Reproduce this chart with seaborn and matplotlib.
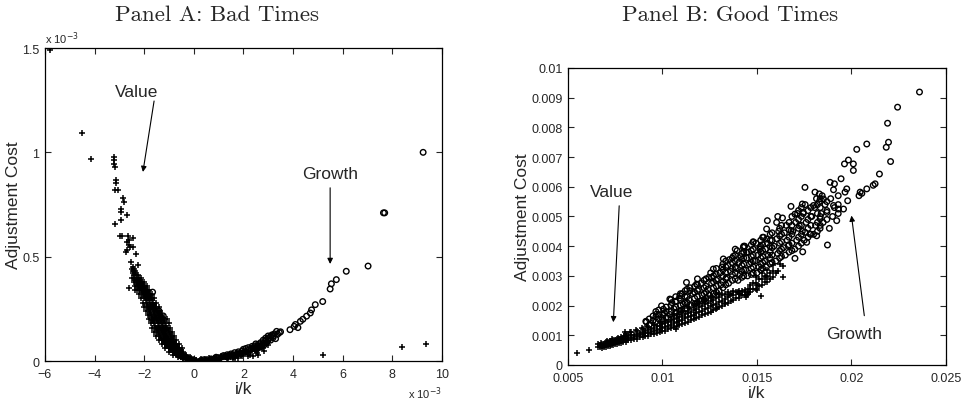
import numpy as np
import pandas as pd
import matplotlib
matplotlib.use('Agg')
import matplotlib.pyplot as plt
import seaborn as sns

# Panel A (bad times), both axes in units of 1e-3
# value firms (+): outliers, then the steep left band, then the flat band right of zero
a_value_x = [-5.8, -4.49, -4.13, -3.22, -3.22, -3.2, -3.18, -3.14, -3.14, -3.18, -3.04, -2.84, -2.82,
             -2.95, -2.92, -2.71, -3.18, -2.95, -2.98, -2.9, -2.64, -2.6, -2.47, -2.71, -2.6, -2.57,
             -2.44, -2.73, -2.68, -2.33, -2.53, -2.24, -2.45, -2.4, -2.61, -2.37, -1.70, -1.75, -1.6,
             5.22, 8.41, 9.35,
             -2.45, -2.35, -2.4, -2.3, -2.2, -2.3, -2.2, -2.1, -2.25, -2.12, -2.0, -2.15, -2.02, -1.9,
             -2.05, -1.92, -1.8, -1.98, -1.85, -1.72, -1.9, -1.78, -1.64, -1.85, -1.7, -1.55,
             -1.78, -1.62, -1.48, -1.72, -1.56, -1.4, -1.66, -1.5, -1.34, -1.2, -1.6, -1.44, -1.28, -1.14,
             -1.52, -1.38, -1.22, -1.08, -1.45, -1.3, -1.15, -1.0, -1.38, -1.22, -1.06, -0.92,
             -1.28, -1.12, -0.98, -0.84, -1.15, -1.0, -0.86, -0.72, -1.0, -0.86, -0.72, -0.6,
             -0.85, -0.7, -0.56, -0.68, -0.55, -0.42, -0.5, -0.38, -0.26, -0.32, -0.2, -0.1, -0.1, 0.0,
             -2.42, -2.32, -2.25, -2.36, -2.26, -2.16, -2.28, -2.16, -2.05, -2.2, -2.08, -1.96,
             -2.1, -1.98, -1.86, -2.02, -1.9, -1.76, -1.94, -1.82, -1.68, -1.88, -1.74, -1.6,
             -1.82, -1.66, -1.52, -1.75, -1.6, -1.45, -1.69, -1.54, -1.38, -1.27, -1.63, -1.47, -1.32,
             -1.18, -1.56, -1.42, -1.26, -1.12, -1.5, -1.34, -1.19, -1.04, -1.42, -1.26, -1.1, -0.96,
             -1.33, -1.17, -1.02, -0.88, -1.22, -1.06, -0.92, -0.78, -1.08, -0.93, -0.79, -0.66,
             -0.93, -0.78, -0.64, -0.52, -0.77, -0.62, -0.49, -0.6, -0.47, -0.34, -0.42, -0.3, -0.18,
             -0.22, -0.12, -0.03,
             0.05, 0.2, 0.35, 0.5, 0.65, 0.8, 0.95, 1.1, 1.25, 1.4, 1.55, 1.7, 1.85, 2.0, 2.15, 2.3,
             2.45, 2.6, 2.75, 2.9, 0.3, 0.6, 0.9, 1.2, 1.5, 1.8, 2.1, 2.4, 2.7,
             0.15, 0.45, 0.75, 1.05, 1.35, 1.65, 1.95, 2.25, 2.55, 2.85, 0.4, 0.7, 1.0, 1.3, 1.6,
             1.9, 2.2, 2.5, 2.8, 3.0]
a_value_y = [1.49, 1.093, 0.97, 0.98, 0.965, 0.945, 0.93, 0.866, 0.855, 0.82, 0.82, 0.78, 0.76,
             0.727, 0.715, 0.70, 0.655, 0.674, 0.6, 0.6, 0.6, 0.58, 0.59, 0.57, 0.555, 0.546,
             0.546, 0.52, 0.53, 0.514, 0.474, 0.458, 0.45, 0.43, 0.35, 0.342, 0.195, 0.25, 0.27,
             0.03, 0.067, 0.083,
             0.42, 0.42, 0.40, 0.40, 0.40, 0.38, 0.38, 0.38, 0.36, 0.36, 0.36, 0.34, 0.34, 0.34,
             0.32, 0.32, 0.32, 0.30, 0.30, 0.30, 0.28, 0.28, 0.28, 0.26, 0.26, 0.26,
             0.24, 0.24, 0.24, 0.22, 0.22, 0.22, 0.20, 0.20, 0.20, 0.20, 0.18, 0.18, 0.18, 0.18,
             0.16, 0.16, 0.16, 0.16, 0.14, 0.14, 0.14, 0.14, 0.12, 0.12, 0.12, 0.12,
             0.10, 0.10, 0.10, 0.10, 0.08, 0.08, 0.08, 0.08, 0.06, 0.06, 0.06, 0.06,
             0.045, 0.045, 0.045, 0.03, 0.03, 0.03, 0.018, 0.018, 0.018, 0.008, 0.008, 0.008, 0.002, 0.002,
             0.41, 0.41, 0.41, 0.39, 0.39, 0.39, 0.37, 0.37, 0.37, 0.35, 0.35, 0.35,
             0.33, 0.33, 0.33, 0.31, 0.31, 0.31, 0.29, 0.29, 0.29, 0.27, 0.27, 0.27,
             0.25, 0.25, 0.25, 0.23, 0.23, 0.23, 0.21, 0.21, 0.21, 0.21, 0.19, 0.19, 0.19,
             0.19, 0.17, 0.17, 0.17, 0.17, 0.15, 0.15, 0.15, 0.15, 0.13, 0.13, 0.13, 0.13,
             0.11, 0.11, 0.11, 0.11, 0.09, 0.09, 0.09, 0.09, 0.07, 0.07, 0.07, 0.07,
             0.052, 0.052, 0.052, 0.052, 0.038, 0.038, 0.038, 0.024, 0.024, 0.024, 0.013, 0.013, 0.013,
             0.004, 0.004, 0.004,
             0.001, 0.002, 0.003, 0.004, 0.006, 0.008, 0.011, 0.014, 0.017, 0.02, 0.024, 0.028, 0.032,
             0.037, 0.042, 0.048, 0.054, 0.061, 0.07, 0.08, 0.008, 0.012, 0.017, 0.024, 0.031, 0.04,
             0.05, 0.062, 0.08,
             0.0, 0.002, 0.004, 0.008, 0.012, 0.016, 0.022, 0.03, 0.04, 0.05, 0.005, 0.009, 0.013,
             0.018, 0.022, 0.028, 0.036, 0.046, 0.06, 0.075]
# more value firms at the edges of the two bands
a_value_x2 = [-2.5, -2.42, -2.47, -2.38, -2.5, -2.12, -2.42, -2.0, -2.37, -1.9, -2.28, -1.8,
              -2.2, -1.7, -2.12, -1.6, -2.05, -1.52, -2.0, -1.42, -1.92, -1.36, -1.86, -1.28,
              -1.8, -1.08, -1.74, -1.0, -1.68, -0.95, -1.6, -0.88, -1.52, -0.8, -1.42, -0.72,
              -1.3, -0.6, -1.14, -0.48, -1.0, -0.44, -0.82, -0.3, -0.64, -0.15, -0.45, 0.02,
              -1.58, -1.42, -1.26, -1.45, -1.28, -1.12, -1.2, -1.05, -0.9, -0.95, -0.8, -0.66,
              -0.72, -0.58, -0.46, -0.55, -0.42, -0.3, -0.36, -0.24, -0.12, -0.15, -0.05, 0.1,
              0.25, 0.55, 0.85, 1.15, 1.45, 1.75, 2.05, 2.35, 2.65, 2.95, 0.1, 0.45, 0.8, 1.1, 1.4,
              1.7, 2.0, 2.3, 2.6, 0.6, 1.0, 1.4, 1.8, 2.2, 2.6, 0.3, 0.9, 1.6, 2.4]
a_value_y2 = [0.44, 0.44, 0.43, 0.43, 0.40, 0.40, 0.38, 0.38, 0.36, 0.36, 0.34, 0.34,
              0.32, 0.32, 0.30, 0.30, 0.28, 0.28, 0.26, 0.26, 0.24, 0.24, 0.22, 0.22,
              0.20, 0.20, 0.18, 0.18, 0.16, 0.16, 0.14, 0.14, 0.12, 0.12, 0.10, 0.10,
              0.08, 0.08, 0.06, 0.06, 0.045, 0.045, 0.03, 0.03, 0.018, 0.018, 0.008, 0.008,
              0.205, 0.205, 0.205, 0.155, 0.155, 0.155, 0.105, 0.105, 0.105, 0.065, 0.065, 0.065,
              0.035, 0.035, 0.035, 0.022, 0.022, 0.022, 0.012, 0.012, 0.012, 0.005, 0.005, 0.005,
              0.006, 0.009, 0.013, 0.019, 0.026, 0.034, 0.044, 0.055, 0.068, 0.088, 0.004, 0.011,
              0.016, 0.022, 0.03, 0.038, 0.05, 0.06, 0.074, 0.001, 0.004, 0.008, 0.014, 0.022, 0.03,
              0.0, 0.002, 0.011, 0.026]
# growth firms (o)
a_growth_x = [0.4, 0.7, 1.0, 1.3, 1.6, 1.9, 2.1, 2.3, 2.5, 2.6, 2.7, 2.8, 2.9, 3.0, 3.05, 3.1, 3.0,
              3.2, 3.3, 3.34, 3.45, 3.38, 3.5,
              1.15, 1.45, 1.75, 2.05, 2.2, 2.4, 2.55, 2.65, 2.75, 2.85, 2.95, 3.1, 3.2, 3.25, 3.15,
              2.9, 2.8, 2.6,
              0.9, 1.2, 1.5, 1.8, 2.0, 2.2, 2.45, 2.7, 2.5, 2.35, 1.95, 1.65, 1.35, 2.1, 2.9, 3.0,
              3.88, 4.05, 4.1, 4.2, 4.3, 4.4, 4.55, 4.7, 4.75, 4.9, 5.2, 5.5, 5.55, 5.75, 6.15, 7.03,
              7.65, 7.7, 9.25,
              -1.66, -1.23, -1.4, -1.3, -1.5]
a_growth_y = [0.006, 0.01, 0.016, 0.022, 0.03, 0.038, 0.046, 0.056, 0.064, 0.072, 0.068, 0.085, 0.095,
              0.1, 0.112, 0.118, 0.12, 0.112, 0.107, 0.142, 0.136, 0.128, 0.14,
              0.02, 0.026, 0.034, 0.042, 0.052, 0.06, 0.058, 0.066, 0.076, 0.078, 0.09, 0.1, 0.12,
              0.13, 0.125, 0.11, 0.1, 0.08,
              0.018, 0.026, 0.034, 0.044, 0.056, 0.064, 0.072, 0.088, 0.082, 0.07, 0.048, 0.04, 0.03,
              0.06, 0.1, 0.108,
              0.15, 0.166, 0.175, 0.16, 0.19, 0.2, 0.215, 0.23, 0.245, 0.27, 0.285, 0.345, 0.37, 0.39,
              0.43, 0.455, 0.71, 0.71, 1.0,
              0.33, 0.216, 0.24, 0.19, 0.23]

# Panel B (good times), both axes in units of 1e-3
b_value_x = [5.5, 6.1,
             6.7, 6.7, 6.9, 6.9, 7.1, 7.1, 7.3, 7.3, 7.5, 7.5, 7.7, 7.7, 7.9, 7.9, 7.9, 8.2, 8.2, 8.2,
             8.5, 8.5, 8.5, 8.8, 8.8, 8.8, 9.1, 9.1, 9.1, 9.4, 9.4, 9.4, 9.7, 9.7, 9.7, 10.0, 10.0, 10.0,
             10.3, 10.3, 10.3, 10.6, 10.6, 10.6, 10.9, 10.9, 10.9, 11.2, 11.2, 11.2, 11.5, 11.5, 11.5,
             11.8, 11.8, 11.8, 12.1, 12.1, 12.1, 12.4, 12.4, 12.4, 12.7, 12.7, 12.7, 13.0, 13.0, 13.0,
             13.3, 13.3, 13.3, 13.6, 13.6, 13.9, 13.9, 14.2, 14.2, 14.5, 14.5, 14.8, 14.8, 15.1, 15.1,
             15.4, 15.4, 15.7, 15.7,
             6.8, 6.8, 6.8, 7.0, 7.0, 7.0, 7.2, 7.2, 7.2, 7.4, 7.4, 7.4, 7.6, 7.6, 7.6, 7.8, 7.8, 7.8,
             8.05, 8.05, 8.05, 8.05, 8.35, 8.35, 8.35, 8.35, 8.65, 8.65, 8.65, 8.65,
             8.95, 8.95, 8.95, 8.95, 9.25, 9.25, 9.25, 9.25, 9.55, 9.55, 9.55, 9.55,
             9.85, 9.85, 9.85, 9.85, 10.15, 10.15, 10.15, 10.15, 10.45, 10.45, 10.45, 10.45,
             10.75, 10.75, 10.75, 10.75, 11.05, 11.05, 11.05, 11.05, 11.35, 11.35, 11.35, 11.35,
             11.65, 11.65, 11.65, 11.65, 11.95, 11.95, 11.95, 11.95, 12.25, 12.25, 12.25, 12.25,
             12.55, 12.55, 12.55, 12.55, 12.85, 12.85, 12.85, 12.85, 13.15, 13.15, 13.15,
             13.45, 13.45, 13.45, 13.75, 13.75, 13.75, 14.05, 14.05, 14.05, 14.35, 14.35, 14.35,
             14.65, 14.65, 14.65, 14.95, 14.95, 14.95, 15.25, 15.25, 15.25, 15.55, 15.55, 15.55,
             15.85, 15.85, 15.85,
             8.0, 8.3, 8.6, 8.9, 9.2, 9.5, 6.6, 6.6, 6.75, 6.75, 7.05, 7.05, 7.35, 7.35, 7.65, 7.65,
             7.95, 7.95, 10.6, 11.0, 11.4, 11.8, 12.2, 12.6, 13.0, 13.5, 14.0, 14.5, 15.0, 15.5, 16.0,
             10.74, 12.86, 13.3, 14.1, 14.45, 15.02, 15.2, 16.1, 16.36, 16.4, 16.2, 14.4]
b_value_y = [0.42, 0.50,
             0.6, 0.68, 0.62, 0.72, 0.65, 0.76, 0.68, 0.8, 0.72, 0.84, 0.75, 0.88, 0.78, 0.92, 0.85,
             0.83, 0.97, 0.9, 0.88, 1.02, 0.95, 0.93, 1.08, 1.0, 0.98, 1.15, 1.06, 1.03, 1.22, 1.12,
             1.08, 1.3, 1.18, 1.13, 1.38, 1.25, 1.2, 1.45, 1.32, 1.27, 1.55, 1.4, 1.34, 1.62, 1.48,
             1.42, 1.72, 1.57, 1.5, 1.8, 1.65, 1.58, 1.9, 1.74, 1.67, 2.0, 1.83, 1.76, 2.1, 1.93,
             1.85, 2.2, 2.03, 1.95, 2.3, 2.12, 2.05, 2.4, 2.22, 2.15, 2.4, 2.25, 2.45, 2.35, 2.5,
             2.45, 2.55, 2.55, 2.75, 2.65, 2.9, 2.8, 3.0, 2.9, 3.1,
             0.58, 0.64, 0.72, 0.6, 0.68, 0.76, 0.63, 0.71, 0.8, 0.66, 0.75, 0.84, 0.7, 0.79, 0.88,
             0.73, 0.83, 0.93, 0.79, 0.87, 0.96, 1.05, 0.84, 0.92, 1.0, 1.1, 0.89, 0.97, 1.05, 1.15,
             0.94, 1.03, 1.11, 1.2, 0.99, 1.09, 1.18, 1.27, 1.04, 1.14, 1.25, 1.35,
             1.1, 1.2, 1.32, 1.44, 1.16, 1.28, 1.4, 1.53, 1.23, 1.36, 1.49, 1.62,
             1.3, 1.44, 1.57, 1.72, 1.38, 1.52, 1.66, 1.82, 1.46, 1.6, 1.75, 1.92,
             1.54, 1.68, 1.85, 2.02, 1.62, 1.78, 1.94, 2.12, 1.71, 1.88, 2.04, 2.22,
             1.8, 1.97, 2.14, 2.32, 1.9, 2.07, 2.25, 2.42, 2.0, 2.17, 2.35,
             2.1, 2.28, 2.46, 2.2, 2.35, 2.48, 2.25, 2.38, 2.5, 2.35, 2.45, 2.52,
             2.45, 2.55, 2.7, 2.55, 2.75, 2.95, 2.7, 2.9, 3.1, 2.8, 3.0, 3.2,
             2.95, 3.15, 3.35,
             1.1, 1.12, 1.18, 1.24, 1.32, 1.4, 0.62, 0.7, 0.66, 0.74, 0.73, 0.82, 0.77, 0.88, 0.8, 0.92,
             0.85, 0.98, 1.7, 1.8, 1.95, 2.05, 2.15, 2.28, 2.4, 2.35, 2.45, 2.4, 2.7, 2.95, 3.1,
             1.20, 1.93, 2.10, 2.38, 2.35, 2.53, 2.33, 3.15, 2.97, 3.34, 3.4, 2.3]
b_growth_x = [23.6, 22.44, 21.91, 21.96, 21.84, 20.81, 20.28, 22.07, 21.48, 20.81, 21.25, 21.15,
              19.84, 19.63, 20.1, 20.1, 19.45, 18.87, 19.1, 20.46, 20.4, 20.55, 19.75, 19.66, 19.8,
              19.58, 19.05, 19.31, 19.22, 18.83, 18.73, 18.52, 18.7, 18.34, 17.54, 18.07, 18.3, 18.3,
              17.4, 17.45, 17.99, 16.8, 17.01, 17.24, 16.1, 16.04, 15.51, 15.55, 16.8, 17.54, 17.63,
              17.42, 17.01, 18.34, 17.81, 18.16, 16.66, 15.51, 15.16, 14.8, 14.28, 14.45, 13.75, 13.22,
              12.69, 12.6, 11.8, 11.45, 11.27, 10.92, 10.39, 9.95, 9.68, 9.15, 9.12,
              10.0, 10.1, 10.4, 10.6, 10.5, 11.0, 11.1, 10.9, 11.05, 11.5, 11.4, 11.6, 11.45,
              12.0, 12.1, 11.9, 12.05, 12.5, 12.4, 12.6, 12.45, 12.55, 13.0, 13.1, 12.9, 13.05, 13.15,
              13.5, 13.4, 13.6, 13.45, 13.55, 14.0, 14.1, 13.9, 14.05, 14.15, 13.95,
              14.5, 14.4, 14.6, 14.45, 14.55, 14.35, 15.0, 15.1, 14.9, 15.05, 15.15, 14.95,
              15.5, 15.4, 15.6, 15.45, 15.55, 15.35, 16.0, 16.1, 15.9, 16.05, 16.15,
              16.5, 16.4, 16.6, 16.45, 16.55, 16.35, 17.0, 17.1, 16.9, 17.05, 17.15,
              17.5, 17.4, 17.6, 17.45, 17.55, 18.0, 18.1, 17.9, 18.05, 18.15,
              18.5, 18.4, 18.6, 18.45, 19.0, 19.1, 18.9, 19.05,
              9.5, 9.5, 9.8, 9.8, 9.8, 10.2, 10.2, 10.2, 10.7, 10.7, 10.7, 10.7,
              11.2, 11.2, 11.2, 11.2, 11.7, 11.7, 11.7, 11.7, 12.2, 12.2, 12.2, 12.2,
              12.7, 12.7, 12.7, 12.7, 13.2, 13.2, 13.2, 13.2, 13.2, 13.7, 13.7, 13.7, 13.7, 13.7,
              14.2, 14.2, 14.2, 14.2, 14.2, 14.7, 14.7, 14.7, 14.7, 14.7, 14.7,
              15.2, 15.2, 15.2, 15.2, 15.2, 15.2, 15.7, 15.7, 15.7, 15.7, 15.7, 15.7,
              16.2, 16.2, 16.2, 16.2, 16.2, 16.7, 16.7, 16.7, 16.7, 16.7,
              17.2, 17.2, 17.2, 17.2, 17.2, 17.7, 17.7, 17.7, 17.7, 18.2, 18.2, 18.2, 18.2,
              18.7, 18.7, 18.7, 19.3, 19.3, 19.3]
b_growth_y = [9.19, 8.68, 8.14, 7.50, 7.33, 7.44, 7.26, 6.85, 6.43, 5.93, 6.10, 6.05,
              6.9, 6.77, 6.77, 6.55, 6.27, 6.15, 6.10, 5.82, 5.70, 5.78, 5.93, 5.82, 5.53,
              5.25, 5.37, 5.25, 4.86, 4.60, 4.04, 5.59, 5.14, 4.92, 5.98, 5.82, 5.76, 5.5,
              5.42, 5.14, 5.37, 5.34, 5.08, 4.69, 5.0, 4.80, 4.58, 4.86, 4.52, 4.47, 4.13,
              3.81, 3.59, 4.60, 4.41, 4.35, 4.02, 4.24, 3.96, 4.13, 3.96, 3.79, 3.66, 3.57,
              3.23, 2.95, 2.72, 2.50, 2.78, 2.33, 2.22, 1.99, 1.71, 1.45, 1.47,
              1.55, 1.75, 1.7, 1.9, 2.1, 1.85, 2.05, 2.25, 2.4, 2.0, 2.2, 2.4, 2.6,
              2.15, 2.35, 2.55, 2.75, 2.35, 2.55, 2.75, 2.95, 3.1, 2.5, 2.7, 2.9, 3.1, 3.3,
              2.75, 2.95, 3.15, 3.35, 3.55, 2.85, 3.05, 3.25, 3.45, 3.65, 3.85,
              3.0, 3.2, 3.4, 3.6, 3.8, 4.0, 3.1, 3.3, 3.5, 3.7, 3.9, 4.1,
              3.3, 3.5, 3.7, 3.9, 4.1, 4.3, 3.5, 3.75, 4.0, 4.25, 4.5,
              3.7, 3.95, 4.2, 4.45, 4.7, 4.95, 3.9, 4.2, 4.5, 4.8, 5.1,
              4.2, 4.5, 4.8, 5.1, 5.4, 4.4, 4.7, 5.0, 5.3, 5.6,
              4.8, 5.1, 5.4, 5.7, 5.0, 5.3, 5.6, 5.9,
              1.5, 1.65, 1.55, 1.7, 1.85, 1.6, 1.8, 1.95, 1.75, 1.95, 2.15, 2.3,
              1.9, 2.1, 2.3, 2.5, 2.05, 2.25, 2.45, 2.65, 2.2, 2.4, 2.6, 2.85,
              2.4, 2.6, 2.8, 3.0, 2.6, 2.8, 3.0, 3.2, 3.4, 2.85, 3.05, 3.25, 3.45, 3.6,
              2.95, 3.15, 3.35, 3.55, 3.75, 3.05, 3.25, 3.45, 3.65, 3.85, 4.05,
              3.2, 3.4, 3.6, 3.8, 4.0, 4.2, 3.4, 3.6, 3.8, 4.0, 4.2, 4.4,
              3.6, 3.85, 4.1, 4.35, 4.6, 3.8, 4.05, 4.3, 4.55, 4.8,
              4.0, 4.3, 4.6, 4.9, 5.2, 4.3, 4.6, 4.9, 5.2, 4.5, 4.8, 5.1, 5.4,
              4.9, 5.2, 5.5, 5.1, 5.4, 5.7]
# more growth firms filling the middle of the cloud
b_growth_x2 = [9.3, 9.3, 9.65, 9.65, 9.65, 10.05, 10.05, 10.05, 10.45, 10.45, 10.45, 10.45,
               10.95, 10.95, 10.95, 10.95, 11.3, 11.3, 11.3, 11.3, 11.85, 11.85, 11.85, 11.85, 11.85,
               12.3, 12.3, 12.3, 12.3, 12.85, 12.85, 12.85, 12.85, 12.85,
               13.35, 13.35, 13.35, 13.35, 13.35, 13.85, 13.85, 13.85, 13.85, 13.85, 13.85,
               14.3, 14.3, 14.3, 14.3, 14.3, 14.3, 14.8, 14.8, 14.8, 14.8, 14.8, 14.8,
               15.3, 15.3, 15.3, 15.3, 15.3, 15.3, 15.8, 15.8, 15.8, 15.8, 15.8,
               16.3, 16.3, 16.3, 16.3, 16.3, 16.85, 16.85, 16.85, 16.85, 16.85,
               17.35, 17.35, 17.35, 17.35, 17.35, 17.85, 17.85, 17.85, 17.85,
               18.35, 18.35, 18.35, 18.35]
b_growth_y2 = [1.35, 1.55, 1.45, 1.62, 1.8, 1.5, 1.68, 1.88, 1.6, 1.8, 2.0, 2.2,
               1.8, 2.0, 2.2, 2.4, 1.9, 2.1, 2.3, 2.55, 2.1, 2.3, 2.5, 2.7, 2.9,
               2.25, 2.45, 2.65, 2.9, 2.45, 2.65, 2.85, 3.05, 3.25,
               2.7, 2.9, 3.1, 3.3, 3.5, 2.9, 3.1, 3.3, 3.5, 3.7, 3.9,
               3.0, 3.2, 3.4, 3.6, 3.8, 4.0, 3.1, 3.3, 3.5, 3.7, 3.9, 4.15,
               3.25, 3.45, 3.65, 3.85, 4.05, 4.3, 3.45, 3.7, 3.95, 4.2, 4.45,
               3.65, 3.9, 4.15, 4.4, 4.7, 3.85, 4.1, 4.4, 4.7, 5.0,
               4.1, 4.4, 4.7, 5.0, 5.3, 4.4, 4.7, 5.0, 5.3,
               4.7, 5.0, 5.3, 5.6]

a_xticks = [-6, -4, -2, 0, 2, 4, 6, 8, 10]
a_yticks = [0, 0.5, 1, 1.5]
a_yticklabels = ['0', '0.5', '1', '1.5']
b_xticks = [0.005, 0.01, 0.015, 0.02, 0.025]
b_xticklabels = ['0.005', '0.01', '0.015', '0.02', '0.025']
b_yticks = [0, 0.001, 0.002, 0.003, 0.004, 0.005, 0.006, 0.007, 0.008, 0.009, 0.01]
b_yticklabels = ['0', '0.001', '0.002', '0.003', '0.004', '0.005', '0.006', '0.007', '0.008',
                 '0.009', '0.01']

sns.set_style('ticks')
plt.rcParams['font.family'] = ['Liberation Sans', 'DejaVu Sans']
plt.rcParams['xtick.direction'] = 'in'
plt.rcParams['ytick.direction'] = 'in'
plt.rcParams['axes.linewidth'] = 0.9

fig = plt.figure(figsize=(9.63, 4.02), dpi=100)
ax1 = fig.add_axes([0.0467, 0.0995, 0.412, 0.7786])
ax2 = fig.add_axes([0.5898, 0.0896, 0.3925, 0.7388])

plus_kw = dict(marker='+', color='black', s=24, linewidth=1.1)
circ_kw = dict(marker='o', facecolors='none', edgecolor='black', s=16, linewidth=1.0)

df_av = pd.DataFrame({'x': a_value_x + a_value_x2, 'y': a_value_y + a_value_y2})
df_ag = pd.DataFrame({'x': a_growth_x, 'y': a_growth_y})
sns.scatterplot(data=df_av, x='x', y='y', ax=ax1, **plus_kw)
sns.scatterplot(data=df_ag, x='x', y='y', ax=ax1, **circ_kw)

df_bv = pd.DataFrame({'x': np.array(b_value_x) / 1000, 'y': np.array(b_value_y) / 1000})
df_bg = pd.DataFrame({'x': np.array(b_growth_x + b_growth_x2) / 1000,
                      'y': np.array(b_growth_y + b_growth_y2) / 1000})
sns.scatterplot(data=df_bv, x='x', y='y', ax=ax2, **plus_kw)
sns.scatterplot(data=df_bg, x='x', y='y', ax=ax2, **circ_kw)

for ax in (ax1, ax2):
    ax.tick_params(top=True, right=True, labelsize=9, length=4, width=0.8)
    ax.tick_params(axis='x', pad=5)
    ax.tick_params(axis='y', pad=4)
    for sp in ax.spines.values():
        sp.set_visible(True)
        sp.set_color('black')
    ax.set_xlabel('i/k', fontsize=12.5, labelpad=1)
    ax.set_ylabel('Adjustment Cost', fontsize=12.5, labelpad=1)

ax1.set_xlim(-6, 10)
ax1.set_ylim(0, 1.5)
ax1.set_xticks(a_xticks)
ax1.set_xticklabels(['\u2212' + str(-t) if t < 0 else str(t) for t in a_xticks])
ax1.set_yticks(a_yticks)
ax1.set_yticklabels(a_yticklabels)
ax1.text(0.0, 1.005, 'x 10$^{-3}$', transform=ax1.transAxes, fontsize=8, ha='left', va='bottom')
ax1.text(1.0, -0.075, 'x 10$^{-3}$', transform=ax1.transAxes, fontsize=8, ha='right', va='top')

ax2.set_xlim(0.005, 0.025)
ax2.set_ylim(0, 0.01)
ax2.set_xticks(b_xticks)
ax2.set_xticklabels(b_xticklabels)
ax2.set_yticks(b_yticks)
ax2.set_yticklabels(b_yticklabels)

arrow = dict(arrowstyle='-|>', color='black', lw=0.8, mutation_scale=8, shrinkA=0, shrinkB=0)
ax1.annotate('', xy=(-2.05, 0.906), xytext=(-1.6, 1.246), arrowprops=arrow)
ax1.text(-2.29, 1.29, 'Value', fontsize=12.5, ha='center', va='center')
ax1.annotate('', xy=(5.5, 0.465), xytext=(5.5, 0.83), arrowprops=arrow)
ax1.text(5.49, 0.90, 'Growth', fontsize=12.5, ha='center', va='center')

ax2.annotate('', xy=(0.0074, 0.00144), xytext=(0.00771, 0.00536), arrowprops=arrow)
ax2.text(0.00731, 0.00583, 'Value', fontsize=12.5, ha='center', va='center')
ax2.annotate('', xy=(0.0200, 0.00503), xytext=(0.02068, 0.00166), arrowprops=arrow)
ax2.text(0.02013, 0.00107, 'Growth', fontsize=12.5, ha='center', va='center')

fig.text(0.2253, 0.963, 'Panel A: Bad Times', family='cmr10', fontsize=16.5, ha='center', va='center')
fig.text(0.758, 0.963, 'Panel B: Good Times', family='cmr10', fontsize=16.5, ha='center', va='center')

fig.savefig('out.png', dpi=100)
